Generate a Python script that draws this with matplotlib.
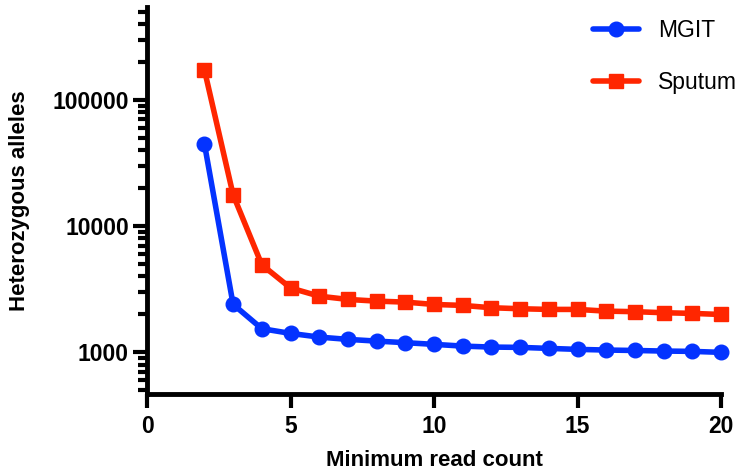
import matplotlib
matplotlib.use("Agg")
import matplotlib.pyplot as plt
from matplotlib.ticker import LogLocator, NullFormatter

plt.rcParams['font.family'] = ['Liberation Sans', 'DejaVu Sans']

read_count = list(range(2, 21))
mgit = [44900, 2400, 1540, 1413, 1321, 1267, 1228, 1193, 1157, 1121,
        1101, 1095, 1075, 1056, 1043, 1035, 1024, 1018, 1000]
sputum = [172800, 17700, 4940, 3236, 2786, 2625, 2545, 2500, 2395, 2354,
          2256, 2215, 2188, 2188, 2120, 2100, 2060, 2035, 1995]
x_ticks = [0, 5, 10, 15, 20]
y_ticks = [1000, 10000, 100000]

W, H = 742, 471
fig = plt.figure(figsize=(W / 100, H / 100), dpi=100)
ax = fig.add_axes([147 / W, 1 - 394 / H, (721 - 147) / W, (394 - 7) / H])

blue = '#0433ff'
red = '#ff2600'
ax.plot(read_count, mgit, color=blue, lw=4, marker='o', ms=10.5, label='MGIT',
        solid_capstyle='round', clip_on=False, zorder=3)
ax.plot(read_count, sputum, color=red, lw=4, marker='s', ms=10.5, label='Sputum',
        solid_capstyle='round', clip_on=False, zorder=3)

ax.set_yscale('log')
ax.set_xlim(0, 20)
ax.set_ylim(468, 543000)

ax.set_xticks(x_ticks)
ax.set_xticklabels([str(v) for v in x_ticks])
ax.set_yticks(y_ticks)
ax.set_yticklabels([str(v) for v in y_ticks])
ax.yaxis.set_minor_locator(LogLocator(base=10, subs=range(2, 10), numticks=20))
ax.yaxis.set_minor_formatter(NullFormatter())

for s in ['top', 'right']:
    ax.spines[s].set_visible(False)
for s in ['left', 'bottom']:
    ax.spines[s].set_linewidth(3.5)
    ax.spines[s].set_capstyle('projecting')

ax.tick_params(axis='both', which='major', length=10, width=3, labelsize=16.5, pad=3)
ax.tick_params(axis='y', which='minor', length=6.5, width=3)
ax.tick_params(axis='x', which='major', pad=5)
for lab in ax.get_xticklabels() + ax.get_yticklabels():
    lab.set_fontweight('bold')

ax.set_xlabel('Minimum read count', fontsize=16, fontweight='bold', labelpad=9)
ax.set_ylabel('Heterozygous alleles', fontsize=16, fontweight='bold', labelpad=16)

leg = ax.legend(loc='upper left', bbox_to_anchor=(593 / W, 1 - 19 / H),
                bbox_transform=fig.transFigure, frameon=False, fontsize=16.5,
                handlelength=2.0, handletextpad=0.85, labelspacing=1.28,
                borderpad=0, borderaxespad=0, markerscale=1.0)

fig.savefig('out.png', dpi=100)
